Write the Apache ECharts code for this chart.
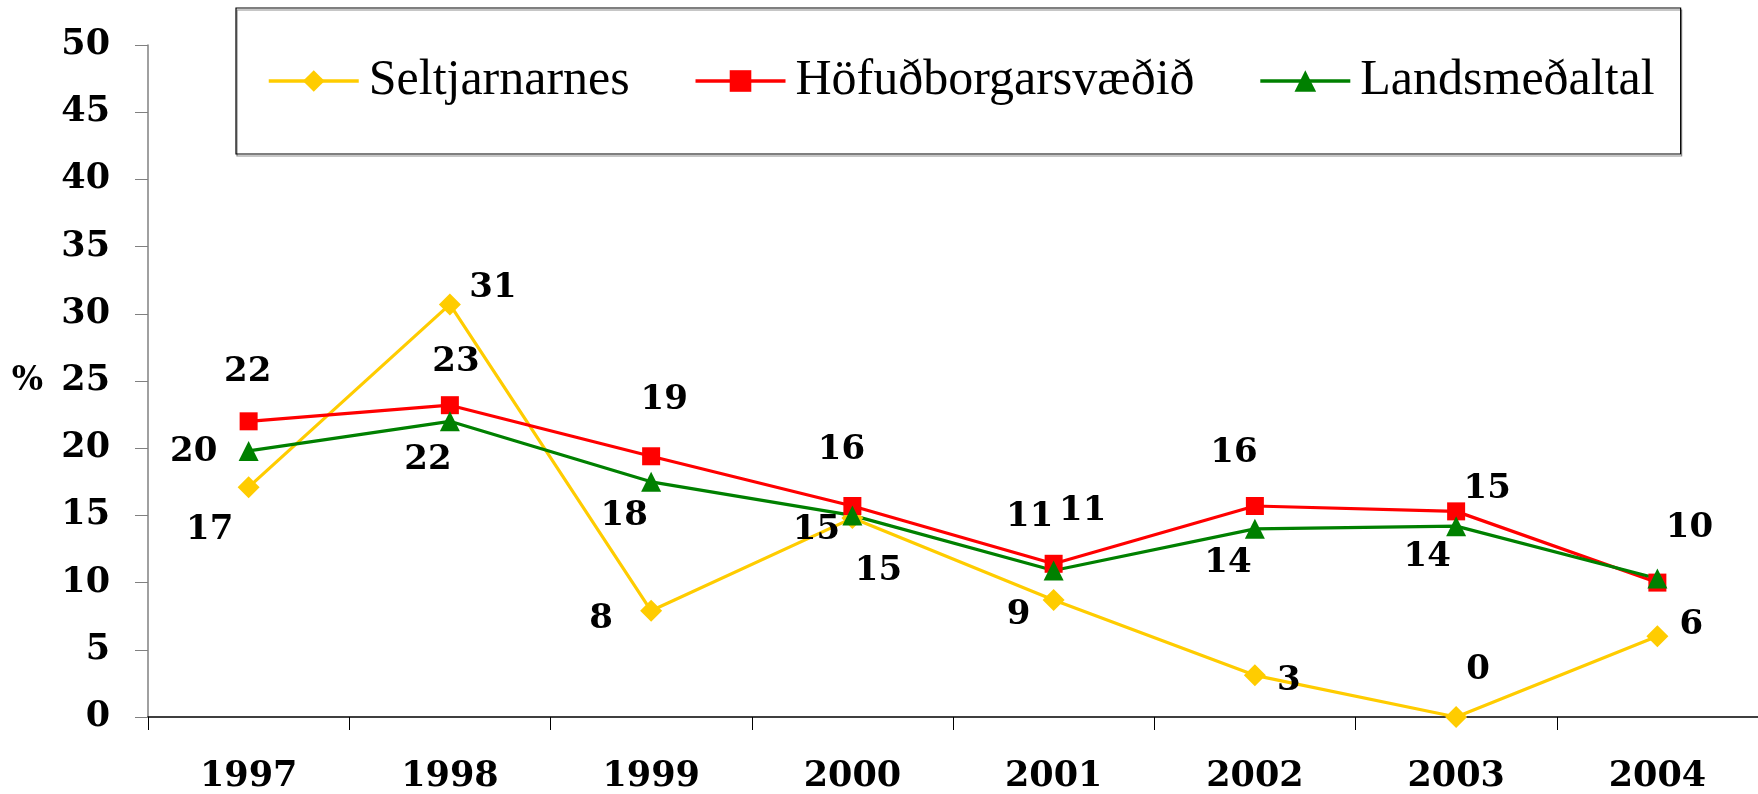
<!DOCTYPE html>
<html>
<head>
<meta charset="utf-8">
<script src="https://cdn.jsdelivr.net/npm/echarts@6/dist/echarts.min.js"></script>
<style>
  html, body { margin: 0; padding: 0; background: #fff; }
  #chart { width: 1758px; height: 794px; }
</style>
</head>
<body>
<div id="chart"></div>
<script>
const years = ['1997', '1998', '1999', '2000', '2001', '2002', '2003', '2004']
const seriesNames = ['Seltjarnarnes', 'Höfuðborgarsvæðið', 'Landsmeðaltal']

const seltjarnarnes = [17.1, 30.7, 7.9, 14.8, 8.7, 3.1, 0, 6.0]
const hofudborg = [22.0, 23.2, 19.4, 15.7, 11.4, 15.7, 15.3, 10.0]
const landsmedaltal = [19.8, 22.0, 17.5, 15.0, 10.9, 14.0, 14.2, 10.3]

// where each value label sits relative to its point (px), null = no label
const seltOffsets = [[-39, 43], [43, -16], [-50, 8], [-36, 12], [-35, 15], [34, 6], [22, -47], [34, -11]]
const hofOffsets = [[-1, -49], [6, -43], [13, -56], [-11, -56], [29, -53], [-21, -53], [31, -22], [32, -54]]
const landsOffsets = [[-55, 1], [-22, 39], [-27, 34], [26, 56], [-24, -53], [-27, 34], [-29, 31], null]

const labelFont = {
  fontFamily: 'DejaVu Serif',
  fontWeight: 'bold',
  fontSize: 34,
  color: '#000'
}

const withLabels = (values, offsets) => values.map((v, i) => ({
  value: v,
  label: offsets[i]
    ? { show: true, position: 'inside', offset: offsets[i] }
    : { show: false }
}))

const makeSeries = (name, values, offsets, color, symbol, size) => ({
  name,
  type: 'line',
  data: withLabels(values, offsets),
  symbol,
  symbolSize: size,
  itemStyle: { color },
  lineStyle: { color, width: 3.2 },
  label: {
    ...labelFont,
    formatter: p => Math.round(p.value)
  },
  emphasis: { disabled: true },
  animation: false
})

const chart = echarts.init(document.getElementById('chart'))

chart.setOption({
  backgroundColor: '#fff',
  animation: false,
  legend: {
    left: 236,
    top: 8,
    padding: [48, 26, 48, 31],
    borderColor: '#000',
    borderWidth: 1.2,
    shadowColor: 'rgba(0,0,0,0.45)',
    shadowOffsetX: 1,
    shadowOffsetY: 2,
    itemWidth: 90,
    itemHeight: 27,
    itemGap: 64,
    lineStyle: { width: 3.5 },
    data: seriesNames,
    textStyle: {
      fontFamily: 'Liberation Serif',
      fontSize: 50,
      lineHeight: 50,
      color: '#000',
      padding: [0, 0, 0, 5]
    }
  },
  grid: {
    left: 148,
    right: 0,
    top: 45,
    bottom: 77,
    containLabel: false
  },
  xAxis: {
    type: 'category',
    data: years,
    boundaryGap: true,
    axisLine: { lineStyle: { color: '#000', width: 1.5 } },
    axisTick: { show: true, length: 13, inside: false, lineStyle: { color: '#000' } },
    axisLabel: { ...labelFont, fontSize: 35, margin: 42 },
    splitLine: { show: false }
  },
  yAxis: {
    type: 'value',
    min: 0,
    max: 50,
    interval: 5,
    name: '%',
    nameLocation: 'middle',
    nameRotate: 0,
    nameGap: 105,
    nameTextStyle: { ...labelFont, fontSize: 33 },
    axisLine: { show: true, lineStyle: { color: '#808080', width: 1.5 } },
    axisTick: { show: true, length: 13, lineStyle: { color: '#808080' } },
    axisLabel: { ...labelFont, fontSize: 35, margin: 38 },
    splitLine: { show: false }
  },
  series: [
    makeSeries(seriesNames[0], seltjarnarnes, seltOffsets, '#FFCC00', 'diamond', 22),
    makeSeries(seriesNames[1], hofudborg, hofOffsets, '#FF0000', 'rect', 18),
    makeSeries(seriesNames[2], landsmedaltal, landsOffsets, '#008000', 'triangle', 20)
  ]
})

window.addEventListener('resize', () => chart.resize())
</script>
</body>
</html>
